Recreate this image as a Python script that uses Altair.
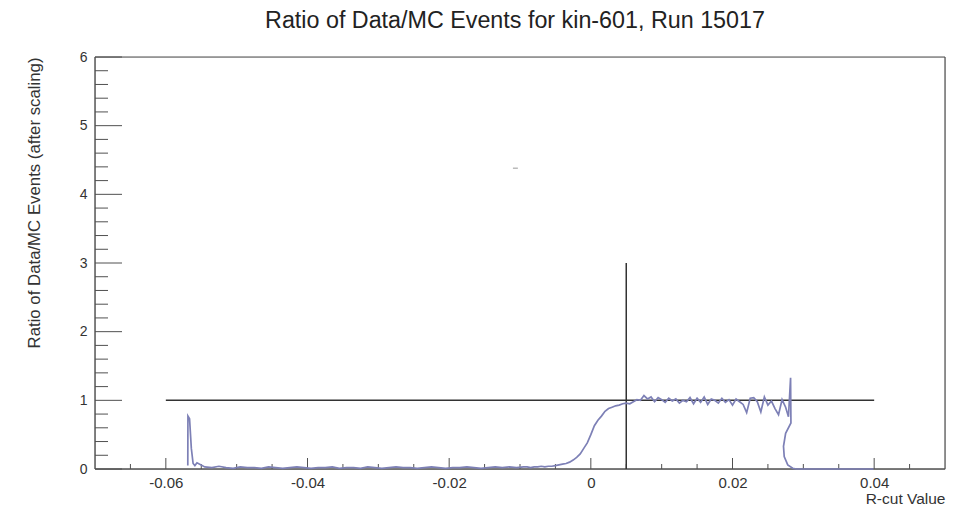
import altair as alt
import pandas as pd

# ---------------- data ----------------
spike_x = [-0.05690, -0.05688, -0.05665, -0.05640, -0.05615, -0.05590, -0.05560]
spike_y = [0.05, 0.77, 0.73, 0.30, 0.08, 0.05, 0.09]

low_x = [-0.0545, -0.0535, -0.0525, -0.0515, -0.0505, -0.0495, -0.0485, -0.0475,
         -0.0465, -0.0455, -0.0445, -0.0435, -0.0425, -0.0415, -0.0405, -0.0395,
         -0.0385, -0.0375, -0.0365, -0.0355, -0.0345, -0.0335, -0.0325, -0.0315,
         -0.0305, -0.0295, -0.0285, -0.0275, -0.0265, -0.0255, -0.0245, -0.0235,
         -0.0225, -0.0215, -0.0205, -0.0195, -0.0185, -0.0175, -0.0165, -0.0155,
         -0.0145, -0.0135, -0.0125, -0.0115, -0.0105]
low_y = [0.03, 0.02, 0.04, 0.02, 0.01, 0.03, 0.02, 0.02,
         0.01, 0.03, 0.02, 0.01, 0.02, 0.03, 0.02, 0.01,
         0.02, 0.02, 0.03, 0.01, 0.02, 0.02, 0.01, 0.03,
         0.02, 0.01, 0.02, 0.03, 0.02, 0.02, 0.01, 0.02,
         0.03, 0.02, 0.01, 0.02, 0.02, 0.03, 0.02, 0.01,
         0.02, 0.03, 0.02, 0.03, 0.02]

rise_x = [-0.0095, -0.0090, -0.0085, -0.0080, -0.0075, -0.0070, -0.0065, -0.0060,
          -0.0055, -0.0050, -0.0045, -0.0040, -0.0035, -0.0030, -0.0025, -0.0020,
          -0.0015, -0.0010, -0.0005, 0.0000, 0.0005, 0.0010, 0.0015, 0.0020,
          0.0025, 0.0030, 0.0035, 0.0040, 0.0045, 0.0050, 0.0055, 0.0060, 0.0065]
rise_y = [0.03, 0.03, 0.02, 0.03, 0.03, 0.04, 0.03, 0.04,
          0.04, 0.05, 0.06, 0.07, 0.08, 0.10, 0.13, 0.17,
          0.22, 0.30, 0.38, 0.50, 0.63, 0.71, 0.77, 0.84,
          0.88, 0.90, 0.92, 0.93, 0.95, 0.96, 0.95, 0.98, 1.01]

flat_x = [0.0070, 0.0075, 0.0080, 0.0085, 0.0090, 0.0095, 0.0100, 0.0105,
          0.0110, 0.0115, 0.0120, 0.0125, 0.0130, 0.0135, 0.0140, 0.0145,
          0.0150, 0.0155, 0.0160, 0.0165, 0.0170, 0.0175, 0.0180, 0.0185,
          0.0190, 0.0195, 0.0200, 0.0205, 0.0210, 0.0215, 0.0220, 0.0225,
          0.0230, 0.0235, 0.0240, 0.0245, 0.0250, 0.0255, 0.0260, 0.0265,
          0.0270, 0.0275]
flat_y = [1.00, 1.07, 1.02, 1.05, 0.98, 1.04, 1.01, 0.97,
          1.03, 0.99, 1.02, 0.96, 1.00, 0.98, 1.04, 0.95,
          1.03, 0.97, 1.05, 0.94, 1.02, 1.00, 0.96, 1.03,
          0.97, 1.01, 0.93, 1.02, 0.98, 0.94, 0.82, 1.03,
          1.04, 0.98, 0.83, 1.05, 0.93, 0.99, 0.88, 0.79,
          1.01, 0.90]

edge_x = [0.0279, 0.0282, 0.02825, 0.0275, 0.0272, 0.0273, 0.0278, 0.0285, 0.0290, 0.0399]
edge_y = [0.76, 1.33, 0.67, 0.52, 0.33, 0.18, 0.06, 0.01, 0.00, 0.00]

ref_line = {"x": [-0.06], "x2": [0.04], "y": [1.0]}
cut_line = {"x": [0.005], "y": [0.0], "y2": [3.0]}
stray_mark = {"x": [-0.0110], "x2": [-0.0103], "y": [4.38]}

x_major = [-0.06, -0.04, -0.02, 0.0, 0.02, 0.04]
x_minor = [-0.065, -0.055, -0.05, -0.045, -0.035, -0.03, -0.025, -0.015, -0.01,
           -0.005, 0.005, 0.01, 0.015, 0.025, 0.03, 0.035, 0.045]
y_major = [0, 1, 2, 3, 4, 5, 6]
y_minor = [0.2, 0.4, 0.6, 0.8, 1.2, 1.4, 1.6, 1.8, 2.2, 2.4, 2.6, 2.8, 3.2, 3.4,
           3.6, 3.8, 4.2, 4.4, 4.6, 4.8, 5.2, 5.4, 5.6, 5.8]

# ---------------- build ----------------
xs = spike_x + low_x + rise_x + flat_x + edge_x
ys = spike_y + low_y + rise_y + flat_y + edge_y
df = pd.DataFrame({"x": xs, "y": ys, "i": list(range(len(xs)))})

W, H = 850, 412
FONT = "Liberation Sans"
AX = "#505050"
xscale = alt.Scale(domain=[-0.07, 0.05], nice=False, zero=False)
yscale = alt.Scale(domain=[0, 6], nice=False)

xaxis = alt.Axis(values=x_major, ticks=False, domain=False, grid=False,
                 labelExpr="(datum.value < 0 ? '-' : '') + (datum.value == 0 ? '0' : format(abs(datum.value), '.2f'))",
                 labelFontSize=15, labelFont=FONT, labelColor="#333", labelPadding=6,
                 title="R-cut Value", titleFont=FONT, titleFontSize=15.5,
                 titleFontWeight="normal", titleColor="#333",
                 titleX=W, titleY=29, titleAlign="right", titleBaseline="middle")
yaxis = alt.Axis(values=y_major, ticks=False, domain=False, grid=False, format="d",
                 labelFontSize=14, labelFont=FONT, labelColor="#333", labelPadding=8,
                 title="Ratio of Data/MC Events (after scaling)", titleFont=FONT,
                 titleFontSize=16.8, titleFontWeight="normal", titleColor="#333",
                 titleX=-52, titleY=0, titleAlign="right", titleAngle=-90,
                 titleBaseline="bottom")

line = alt.Chart(df).mark_line(color="#7d80b6", strokeWidth=1.7).encode(
    x=alt.X("x:Q", scale=xscale, axis=xaxis),
    y=alt.Y("y:Q", scale=yscale, axis=yaxis),
    order="i:Q",
)

xmaj = alt.Chart(pd.DataFrame({"x": x_major})).mark_rule(color=AX, strokeWidth=1).encode(
    x=alt.X("x:Q", scale=xscale, axis=xaxis), y=alt.value(H), y2=alt.value(H - 11))
xmin = alt.Chart(pd.DataFrame({"x": x_minor})).mark_rule(color=AX, strokeWidth=1).encode(
    x=alt.X("x:Q", scale=xscale, axis=xaxis), y=alt.value(H), y2=alt.value(H - 5))
ymaj = alt.Chart(pd.DataFrame({"y": y_major})).mark_rule(color=AX, strokeWidth=1).encode(
    y=alt.Y("y:Q", scale=yscale, axis=yaxis), x=alt.value(0), x2=alt.value(27))
ymin = alt.Chart(pd.DataFrame({"y": y_minor})).mark_rule(color=AX, strokeWidth=1).encode(
    y=alt.Y("y:Q", scale=yscale, axis=yaxis), x=alt.value(0), x2=alt.value(13))

# frame (ROOT-style box around the plot area)
frame_top = alt.Chart(pd.DataFrame({"y": [6]})).mark_rule(color=AX, strokeWidth=1.2).encode(
    y=alt.Y("y:Q", scale=yscale, axis=yaxis), x=alt.value(0), x2=alt.value(W))
frame_bot = alt.Chart(pd.DataFrame({"y": [0]})).mark_rule(color=AX, strokeWidth=1.4).encode(
    y=alt.Y("y:Q", scale=yscale, axis=yaxis), x=alt.value(0), x2=alt.value(W))
frame_l = alt.Chart(pd.DataFrame({"x": [-0.07]})).mark_rule(color=AX, strokeWidth=1.4).encode(
    x=alt.X("x:Q", scale=xscale, axis=xaxis), y=alt.value(0), y2=alt.value(H))
frame_r = alt.Chart(pd.DataFrame({"x": [0.05]})).mark_rule(color=AX, strokeWidth=1.2).encode(
    x=alt.X("x:Q", scale=xscale, axis=xaxis), y=alt.value(0), y2=alt.value(H))

hline = alt.Chart(pd.DataFrame(ref_line)).mark_rule(color="#333", strokeWidth=1.5).encode(
    x=alt.X("x:Q", scale=xscale, axis=xaxis), x2="x2:Q", y=alt.Y("y:Q", scale=yscale, axis=yaxis))
vline = alt.Chart(pd.DataFrame(cut_line)).mark_rule(color="#333", strokeWidth=1.5).encode(
    x=alt.X("x:Q", scale=xscale, axis=xaxis), y=alt.Y("y:Q", scale=yscale, axis=yaxis), y2="y2:Q")
stray = alt.Chart(pd.DataFrame(stray_mark)).mark_rule(color="#bbbbbb", strokeWidth=1.5).encode(
    x=alt.X("x:Q", scale=xscale, axis=xaxis), x2="x2:Q", y=alt.Y("y:Q", scale=yscale, axis=yaxis))

chart = alt.layer(xmin, xmaj, ymin, ymaj, frame_top, frame_bot, frame_l, frame_r,
                  hline, vline, line, stray).properties(
    width=W, height=H,
    title=alt.TitleParams("Ratio of Data/MC Events for kin-601, Run 15017", font=FONT,
                          fontSize=23.3, fontWeight="normal", color="#222", anchor="middle",
                          baseline="bottom", offset=25, dx=-5, dy=31),
    autosize=alt.AutoSizeParams(type="none"),
    padding={"left": 95, "top": 57, "right": 24, "bottom": 37},
).configure_view(stroke=None).configure(background="white")

chart.save("out.html", embed_options={"renderer": "svg", "actions": False})
